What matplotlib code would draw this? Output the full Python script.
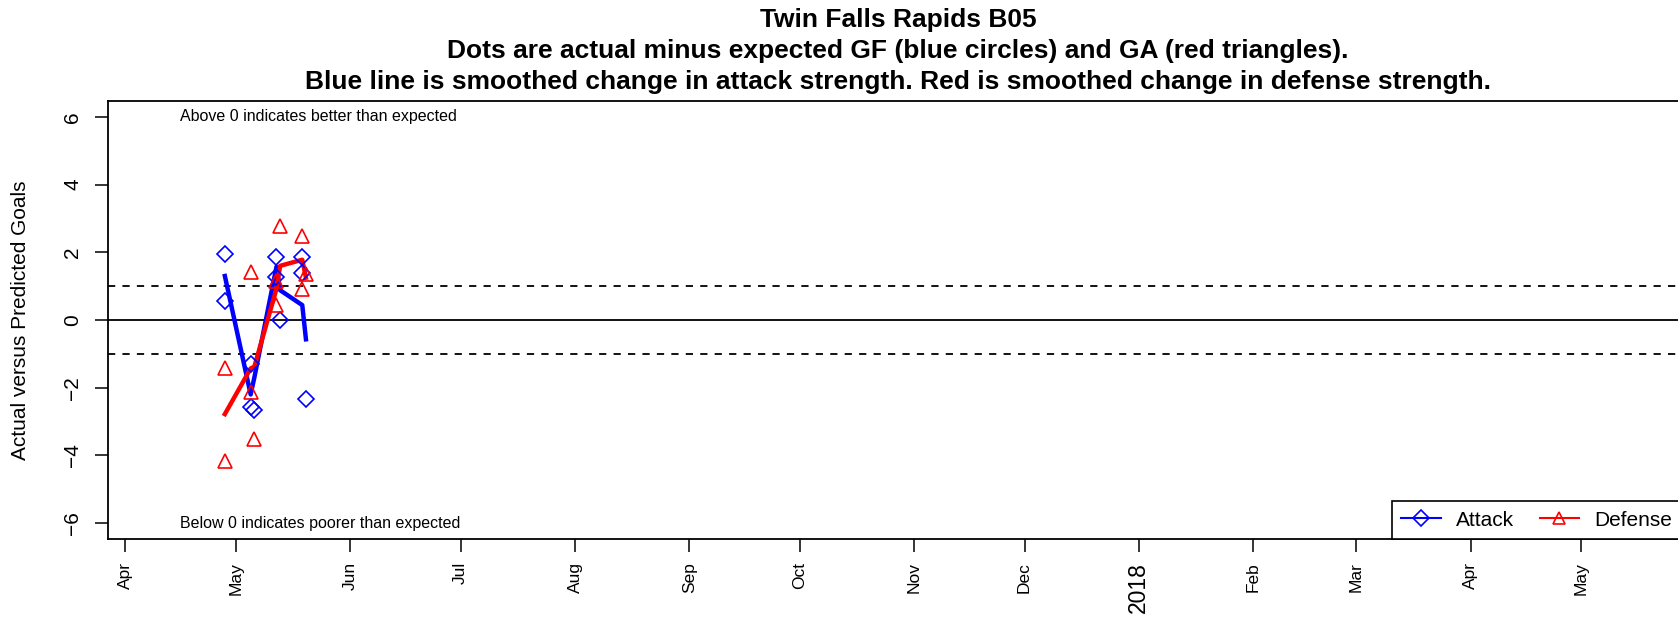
import matplotlib
matplotlib.use("Agg")
import matplotlib.pyplot as plt
import matplotlib.dates as mdates
from matplotlib.lines import Line2D
import numpy as np
import pandas as pd

plt.rcParams['font.family'] = ['Liberation Sans', 'DejaVu Sans']

# game dates and residuals (actual minus expected)
game_dates = pd.to_datetime([
    "2017-04-28", "2017-04-28", "2017-05-05", "2017-05-05", "2017-05-06",
    "2017-05-12", "2017-05-12", "2017-05-13", "2017-05-19", "2017-05-19",
    "2017-05-20",
])
attack_resid = [1.95, 0.57, -1.30, -2.58, -2.65, 1.85, 1.28, 0.0, 1.87, 1.38, -2.34]
defense_resid = [-1.43, -4.16, 1.41, -2.13, -3.51, 0.44, 1.15, 2.78, 2.49, 0.91, 1.36]

# smoothed strength change, one value per match day
smooth_dates = pd.to_datetime([
    "2017-04-28", "2017-05-05", "2017-05-06", "2017-05-12",
    "2017-05-13", "2017-05-19", "2017-05-20",
])
attack_smooth = [1.30, -2.20, -1.70, 1.57, 0.88, 0.44, -0.57]
defense_smooth = [-2.78, -1.43, -1.38, 0.92, 1.60, 1.78, 1.25]

x_start = pd.Timestamp("2017-03-27 07:00")
x_end = pd.Timestamp("2018-05-30")

W, H, DPI = 1678, 618, 100
fig = plt.figure(figsize=(W / DPI, H / DPI), dpi=DPI)
ax = fig.add_axes([108 / W, 1 - 539 / H, (1688 - 108) / W, (539 - 101) / H])

ax.axhline(0, color="black", lw=1.3, zorder=1)
for yv in (1, -1):
    ax.axhline(yv, color="black", lw=1.3, ls=(0, (4, 4)), zorder=1)

ax.plot(smooth_dates, attack_smooth, color="#0000ff", lw=3.2, zorder=3)
ax.plot(smooth_dates, defense_smooth, color="#ff0000", lw=3.2, zorder=3)
ax.plot(game_dates, attack_resid, ls="none", marker="D", ms=8, mfc="none",
        mec="#0000ff", mew=1.2, zorder=4)
ax.plot(game_dates, defense_resid, ls="none", marker="^", ms=9.5, mfc="none",
        mec="#ff0000", mew=1.2, zorder=4)

ax.set_xlim(x_start, x_end)
ax.set_ylim(-6.47, 6.47)
ax.set_yticks(np.arange(-6, 7, 2))
ax.tick_params(axis="y", labelsize=15, length=9.5, width=1.1, labelrotation=90, pad=9)
for lab in ax.get_yticklabels():
    lab.set_va("center")

ax.xaxis.set_major_locator(mdates.MonthLocator())
ax.xaxis.set_major_formatter(
    matplotlib.ticker.FuncFormatter(
        lambda v, p: mdates.num2date(v).strftime("%Y") if mdates.num2date(v).month == 1
        else mdates.num2date(v).strftime("%b")))
ax.tick_params(axis="x", labelsize=12.5, length=9.5, width=1.1, labelrotation=90, pad=7)
fig.canvas.draw()
for lab in ax.get_xticklabels():
    if lab.get_text().isdigit():
        lab.set_fontsize(16.5)

for s in ax.spines.values():
    s.set_linewidth(1.3)

ax.set_ylabel("Actual versus Predicted Goals", fontsize=15)
ax.yaxis.set_label_coords((30 - 108) / 1580, 0.5)

ax.text(0.0456, 6, "Above 0 indicates better than expected", fontsize=11.5,
        va="center", ha="left", transform=ax.get_yaxis_transform())
ax.text(0.0456, -6, "Below 0 indicates poorer than expected", fontsize=11.5,
        va="center", ha="left", transform=ax.get_yaxis_transform())

fig.text((108 + 1688) / 2 / W, 1 - 51 / H,
         "Twin Falls Rapids B05\n"
         "Dots are actual minus expected GF (blue circles) and GA (red triangles).\n"
         "Blue line is smoothed change in attack strength. Red is smoothed change in defense strength.",
         ha="center", va="center", fontsize=19, fontweight="bold", linespacing=1.38)

handles = [
    Line2D([], [], color="#0000ff", lw=1.5, marker="D", ms=8, mfc="none", mew=1.2),
    Line2D([], [], color="#ff0000", lw=1.5, marker="^", ms=9, mfc="none", mew=1.2),
]
leg = ax.legend(handles, ["Attack", "Defense"], loc="lower right", ncol=2,
                bbox_to_anchor=(1 - 6 / 1580, 0),
                fontsize=15, frameon=True, fancybox=False, edgecolor="black",
                framealpha=1, borderaxespad=0, handlelength=1.9,
                handletextpad=0.75, columnspacing=1.2, borderpad=0.45)
leg.get_frame().set_linewidth(1.2)

fig.savefig("out.png", dpi=DPI)
